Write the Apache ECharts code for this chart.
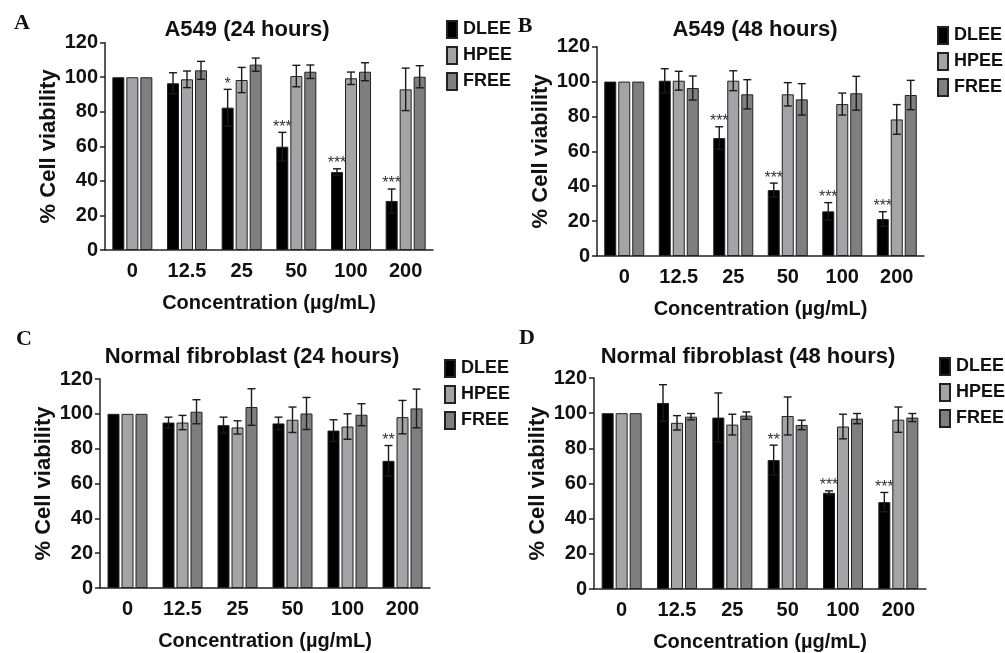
<!DOCTYPE html>
<html>
<head>
<meta charset="utf-8">
<script src="https://cdn.jsdelivr.net/npm/echarts@6/dist/echarts.min.js"></script>
<style>html,body{margin:0;padding:0;background:#fff}#c{width:1005px;height:653px}</style>
</head>
<body>
<div id="c"></div>
<script>
// ---------- DATA ----------
const categories = ['0', '12.5', '25', '50', '100', '200'];
const seriesNames = ['DLEE', 'HPEE', 'FREE'];
const yTicks = [0, 20, 40, 60, 80, 100, 120];

// Panel A: A549 (24 hours)
const a24_DLEE = [100, 96.5, 82.4, 59.8, 45.1, 28.4];
const a24_DLEE_err = [0, 6.1, 10.6, 8.3, 1.9, 6.9];
const a24_HPEE = [100, 98.8, 98.4, 100.7, 99.4, 93.0];
const a24_HPEE_err = [0, 4.8, 7.3, 6.2, 3.6, 12.3];
const a24_FREE = [100, 104.0, 107.3, 103.2, 103.2, 100.3];
const a24_FREE_err = [0, 5.2, 3.8, 3.9, 5.2, 6.4];
const a24_stars = ['', '', '*', '***', '***', '***'];

// Panel B: A549 (48 hours)
const a48_DLEE = [100, 100.5, 67.6, 37.8, 25.6, 21.2];
const a48_DLEE_err = [0, 6.9, 6.5, 4.0, 5.0, 4.2];
const a48_HPEE = [100, 100.5, 100.5, 92.7, 87.1, 78.3];
const a48_HPEE_err = [0, 5.4, 5.7, 6.7, 6.3, 8.5];
const a48_FREE = [100, 96.3, 92.7, 89.8, 93.3, 92.3];
const a48_FREE_err = [0, 6.9, 8.4, 9.0, 9.7, 8.4];
const a48_stars = ['', '', '***', '***', '***', '***'];

// Panel C: Normal fibroblast (24 hours)
const f24_DLEE = [100, 95.0, 93.5, 94.5, 90.4, 73.0];
const f24_DLEE_err = [0, 3.1, 4.6, 3.6, 6.2, 8.8];
const f24_HPEE = [100, 95.0, 92.2, 96.6, 92.7, 98.1];
const f24_HPEE_err = [0, 4.1, 3.8, 7.3, 7.3, 9.6];
const f24_FREE = [100, 101.2, 103.9, 100.2, 99.5, 103.1];
const f24_FREE_err = [0, 6.9, 10.5, 9.2, 6.3, 11.1];
const f24_stars = ['', '', '', '', '', '**'];

// Panel D: Normal fibroblast (48 hours)
const f48_DLEE = [100, 105.8, 97.5, 73.3, 54.7, 49.4];
const f48_DLEE_err = [0, 10.4, 14.0, 8.5, 1.1, 5.5];
const f48_HPEE = [100, 94.5, 93.5, 98.4, 92.4, 96.3];
const f48_HPEE_err = [0, 4.1, 5.9, 10.8, 7.0, 7.2];
const f48_FREE = [100, 98.0, 98.6, 93.3, 96.9, 97.5];
const f48_FREE_err = [0, 1.8, 2.1, 2.7, 2.9, 2.3];
const f48_stars = ['', '', '', '**', '***', '***'];

// ---------- LAYOUT / STYLE ----------
const FONT = 'Liberation Sans, Arial, Helvetica, sans-serif';
const colors = ['#000000', '#a4a4a7', '#7f7f7f'];
const BAR_W = 12, BAR_GAP_PX = 2;

const panels = [
  { title: 'A549 (24 hours)', letter: 'A', letterPos: [22, 23], titlePos: [247, 30],
    grid: { left: 105, top: 42.7, width: 328, height: 207.3 }, legend: { left: 446, top: 20 },
    vals: [a24_DLEE, a24_HPEE, a24_FREE], errs: [a24_DLEE_err, a24_HPEE_err, a24_FREE_err], stars: a24_stars },
  { title: 'A549 (48 hours)', letter: 'B', letterPos: [525, 26], titlePos: [755, 30],
    grid: { left: 597, top: 46.7, width: 327, height: 209.3 }, legend: { left: 937, top: 26 },
    vals: [a48_DLEE, a48_HPEE, a48_FREE], errs: [a48_DLEE_err, a48_HPEE_err, a48_FREE_err], stars: a48_stars },
  { title: 'Normal fibroblast (24 hours)', letter: 'C', letterPos: [24, 339], titlePos: [252, 357],
    grid: { left: 100, top: 379, width: 330, height: 209 }, legend: { left: 444, top: 359 },
    vals: [f24_DLEE, f24_HPEE, f24_FREE], errs: [f24_DLEE_err, f24_HPEE_err, f24_FREE_err], stars: f24_stars },
  { title: 'Normal fibroblast (48 hours)', letter: 'D', letterPos: [527, 338], titlePos: [748, 357],
    grid: { left: 594, top: 378, width: 332, height: 211 }, legend: { left: 939, top: 357 },
    vals: [f48_DLEE, f48_HPEE, f48_FREE], errs: [f48_DLEE_err, f48_HPEE_err, f48_FREE_err], stars: f48_stars }
];

const grids = [], xAxes = [], yAxes = [], legends = [], series = [], graphics = [];

panels.forEach((p, pi) => {
  grids.push(p.grid);
  xAxes.push({
    type: 'category', gridIndex: pi, data: categories,
    name: 'Concentration (µg/mL)', nameLocation: 'middle', nameGap: 43,
    nameTextStyle: { fontFamily: FONT, fontWeight: 'bold', fontSize: 20, color: '#111' },
    axisLine: { lineStyle: { color: '#222', width: 1.5 } },
    axisTick: { alignWithLabel: true, length: 5, lineStyle: { color: '#222', width: 1.5 } },
    axisLabel: { fontFamily: FONT, fontWeight: 'bold', fontSize: 20, color: '#111', margin: 11 }
  });
  yAxes.push({
    type: 'value', gridIndex: pi, min: 0, max: 120, interval: 20,
    name: '% Cell viability', nameLocation: 'middle', nameGap: 45, nameRotate: 90,
    nameTextStyle: { fontFamily: FONT, fontWeight: 'bold', fontSize: 22, color: '#111' },
    axisLine: { show: true, lineStyle: { color: '#222', width: 1.5 } },
    axisTick: { show: true, length: 5, lineStyle: { color: '#222', width: 1.5 } },
    axisLabel: { fontFamily: FONT, fontWeight: 'bold', fontSize: 20, color: '#111', margin: 7,
      formatter: v => (yTicks.indexOf(v) >= 0 ? String(v) : '') },
    splitLine: { show: false }
  });
  legends.push({
    data: seriesNames, orient: 'vertical', left: p.legend.left, top: p.legend.top,
    icon: 'rect', itemWidth: 10, itemHeight: 17, itemGap: 7, padding: 0,
    textStyle: { fontFamily: FONT, fontWeight: 'bold', fontSize: 18, color: '#111', padding: [0, 0, 0, 1] },
    selectedMode: false
  });
  seriesNames.forEach((nm, k) => {
    series.push({
      type: 'bar', name: nm, xAxisIndex: pi, yAxisIndex: pi, data: p.vals[k],
      barWidth: BAR_W, barGap: (BAR_GAP_PX / BAR_W * 100) + '%', barCategoryGap: '20%',
      itemStyle: { color: colors[k], borderColor: '#222', borderWidth: 1 },
      animation: false, silent: true
    });
  });
  seriesNames.forEach((nm, k) => {
    const off = (k - 1) * (BAR_W + BAR_GAP_PX);
    const stars = k === 0 ? p.stars : null;
    series.push({
      type: 'custom', name: nm + ' error', xAxisIndex: pi, yAxisIndex: pi,
      data: p.vals[k].map((v, i) => [i, v, p.errs[k][i]]),
      encode: { x: 0, y: 1 }, z: 5, animation: false, silent: true,
      renderItem: (params, api) => {
        const i = api.value(0), m = api.value(1), e = api.value(2);
        const children = [];
        const base = api.coord([i, m]);
        const x = base[0] + off;
        const top = api.coord([i, m + e])[1];
        const bot = api.coord([i, m - e])[1];
        const st = { stroke: '#1a1a1a', lineWidth: 1.4 };
        if (e > 0) {
          children.push({ type: 'line', shape: { x1: x, y1: top, x2: x, y2: bot }, style: st });
          children.push({ type: 'line', shape: { x1: x - 4, y1: top, x2: x + 4, y2: top }, style: st });
          children.push({ type: 'line', shape: { x1: x - 4, y1: bot, x2: x + 4, y2: bot }, style: st });
        }
        if (stars && stars[params.dataIndex]) {
          children.push({ type: 'text', x: x, y: top + 3,
            style: { text: stars[params.dataIndex], fill: '#333', font: '16px ' + FONT,
              textAlign: 'center', textVerticalAlign: 'bottom' } });
        }
        return { type: 'group', children };
      }
    });
  });
  graphics.push({ type: 'text', x: p.titlePos[0], y: p.titlePos[1],
    style: { text: p.title, font: 'bold 22px ' + FONT, fill: '#111', textAlign: 'center', textVerticalAlign: 'middle' } });
  graphics.push({ type: 'text', x: p.letterPos[0], y: p.letterPos[1],
    style: { text: p.letter, font: 'bold 22px Liberation Serif, Times New Roman, serif', fill: '#111', textAlign: 'center', textVerticalAlign: 'middle' } });
});

const chart = echarts.init(document.getElementById('c'), null, { renderer: 'canvas' });
chart.setOption({
  backgroundColor: '#ffffff', animation: false,
  grid: grids, xAxis: xAxes, yAxis: yAxes, legend: legends, series, graphic: graphics
});
</script>
</body>
</html>
